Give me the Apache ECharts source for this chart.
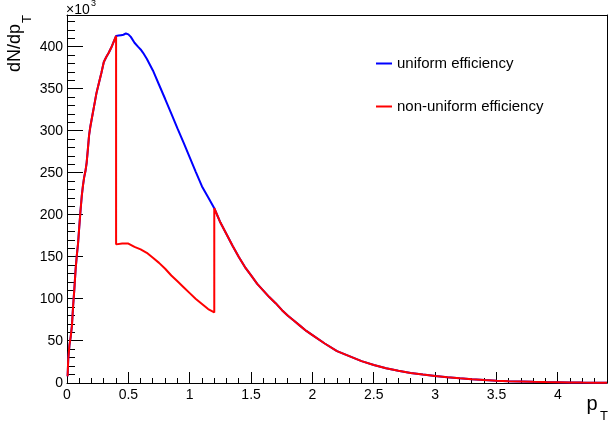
<!DOCTYPE html>
<html>
<head>
<meta charset="utf-8">
<script src="https://cdn.jsdelivr.net/npm/echarts@6/dist/echarts.min.js"></script>
<style>
html,body{margin:0;padding:0;background:#fff;}
#chart{width:610px;height:426px;}
</style>
</head>
<body>
<div id="chart"></div>
<script>
// Values in units of 10^3 entries
const pTRise = [0.005,0.01,0.02,0.03,0.04,0.05,0.06,0.07,0.08,0.09,0.10,0.11,0.12,0.13,0.14,0.15,0.16,0.17,0.18,0.19,0.20,0.21,0.22,0.24,0.26,0.28,0.30,0.32,0.34,0.36,0.38,0.40];
const countsRise = [8,28,45,55,68,92,112,135,152,166,186,205,222,235,245,252,262,278,295,305,313,321,329,345,357,369,382,388,393,399,406,413];

const pTMidUniform = [0.42,0.44,0.46,0.48,0.50,0.52,0.55,0.58,0.60,0.62,0.65,0.70,0.75,0.80,0.85,0.90,0.95,1.00,1.05,1.10,1.15,1.20];
const uniformMid = [413.5,414,414.5,416,415,412,405,400,397,393,386,372,355,338,320.5,303,286,268.5,251,234,221,208];

const pTMidNonUniform = [0.40,0.45,0.50,0.55,0.60,0.65,0.70,0.75,0.80,0.85,0.90,0.95,1.00,1.05,1.10,1.15,1.20];
const nonUniformMid = [165,166,166,162,159,155,149,143,136,128,121,114,107,100,94,88,84];

const pTTail = [1.20,1.25,1.30,1.35,1.40,1.45,1.50,1.55,1.60,1.65,1.70,1.75,1.80,1.85,1.90,1.95,2.00,2.10,2.20,2.30,2.40,2.50,2.60,2.70,2.80,2.90,3.00,3.10,3.20,3.30,3.40,3.50,3.60,3.70,3.80,3.90,4.00,4.10,4.20,4.30,4.40];
const countsTail = [208,191,177,163,150,138,128,118,110,102,95,87,80,74,68,62,57,47,38,32,26,21.5,17.5,14.5,12,10,8.3,6.8,5.6,4.5,3.6,2.8,2.2,1.8,1.4,1.1,0.9,0.7,0.5,0.4,0.3];

const xTickLabels = ['0','0.5','1','1.5','2','2.5','3','3.5','4'];
const yTickLabels = ['0','50','100','150','200','250','300','350','400'];

function pairs(xs, ys){ return xs.map((x,i)=>[x, ys[i]]); }

const uniformData = [].concat(pairs(pTRise,countsRise), pairs(pTMidUniform,uniformMid), pairs(pTTail,countsTail));
const nonUniformData = [].concat(pairs(pTRise,countsRise), pairs(pTMidNonUniform,nonUniformMid), pairs(pTTail,countsTail));

const FONT = '"Liberation Sans", Arial, Helvetica, sans-serif';
const X_MAX = 4.4, Y_MAX = 438;
const X_MAJOR = 0.5, X_MINOR = 0.1, Y_MAJOR = 50, Y_MINOR = 10;

// tick positions along the axes (axis values, placed by the axis scales)
const xTicks = [];
for (let i = 0; i * X_MINOR <= X_MAX - 1e-9; i++) {
  const v = +(i * X_MINOR).toFixed(2);
  const major = Math.abs(v / X_MAJOR - Math.round(v / X_MAJOR)) < 1e-6;
  xTicks.push([v, major ? 11 : 5]);
}
const yTicks = [];
for (let i = 0; i * Y_MINOR <= Y_MAX - 1e-9; i++) {
  const v = i * Y_MINOR;
  yTicks.push([v, v % Y_MAJOR === 0 ? 16 : 8]);
}

function ls(){ return {color:'#000', width:1}; }
function crisp(p){ return Math.round(p - 0.5) + 0.5; }

const chart = echarts.init(document.getElementById('chart'));
chart.setOption({
  animation:false,
  backgroundColor:'#fff',
  grid:{left:67, top:15, width:541, height:368},
  legend:{
    orient:'vertical', left:371, top:51, itemWidth:16, itemHeight:2, itemGap:28, icon:'rect',
    textStyle:{fontSize:15, color:'#000', fontFamily:FONT},
    data:['uniform efficiency','non-uniform efficiency']
  },
  xAxis:[
    {type:'value', min:0, max:X_MAX, interval:X_MAJOR, position:'bottom',
     axisLine:{show:true, lineStyle:ls()},
     axisTick:{show:false},
     axisLabel:{show:true, margin:5, color:'#000', fontSize:14, fontFamily:FONT,
       formatter:function(v){ const k = Math.round(v/X_MAJOR); return (Math.abs(v/X_MAJOR-k)<1e-6 && k < xTickLabels.length) ? xTickLabels[k] : ''; }},
     splitLine:{show:false}},
    {type:'value', min:0, max:X_MAX, position:'top',
     axisLine:{show:true, onZero:false, lineStyle:ls()},
     axisTick:{show:false}, axisLabel:{show:false}, splitLine:{show:false}}
  ],
  yAxis:[
    {type:'value', min:0, max:Y_MAX, interval:Y_MAJOR, position:'left',
     axisLine:{show:true, lineStyle:ls()},
     axisTick:{show:false},
     axisLabel:{show:true, margin:4, color:'#000', fontSize:14, fontFamily:FONT,
       formatter:function(v){ const k = Math.round(v/Y_MAJOR); return (Math.abs(v-Y_MAJOR*k)<1e-6 && k < yTickLabels.length) ? yTickLabels[k] : ''; }},
     splitLine:{show:false}},
    {type:'value', min:0, max:Y_MAX, position:'right',
     axisLine:{show:true, onZero:false, lineStyle:ls()},
     axisTick:{show:false}, axisLabel:{show:false}, splitLine:{show:false}}
  ],
  series:[
    {type:'custom', xAxisIndex:0, yAxisIndex:0, data:xTicks, clip:false, silent:true, z:1,
     renderItem:function(params, api){
       const p = api.coord([api.value(0), 0]);
       const x = crisp(p[0]);
       return {type:'line', shape:{x1:x, y1:p[1], x2:x, y2:p[1]-api.value(1)}, style:{stroke:'#000', lineWidth:1}};
     }},
    {type:'custom', xAxisIndex:0, yAxisIndex:0, data:yTicks.map(t=>[0, t[0], t[1]]), clip:false, silent:true, z:1,
     renderItem:function(params, api){
       const p = api.coord([0, api.value(1)]);
       const y = crisp(p[1]);
       return {type:'line', shape:{x1:p[0], y1:y, x2:p[0]+api.value(2), y2:y}, style:{stroke:'#000', lineWidth:1}};
     }},
    {name:'uniform efficiency', type:'line', xAxisIndex:0, yAxisIndex:0, data:uniformData,
     showSymbol:false, symbol:'none', color:'#0000ff', lineStyle:{color:'#0000ff', width:2}, z:2},
    {name:'non-uniform efficiency', type:'line', xAxisIndex:0, yAxisIndex:0, data:nonUniformData,
     showSymbol:false, symbol:'none', color:'#ff0000', lineStyle:{color:'#ff0000', width:2}, z:3}
  ],
  graphic:[
    {type:'text', x:66, y:10, style:{text:'×10', font:'14px '+FONT, fill:'#000', textVerticalAlign:'middle', textAlign:'left'}},
    {type:'text', x:91, y:4, style:{text:'3', font:'9px '+FONT, fill:'#000', textVerticalAlign:'middle', textAlign:'left'}},
    {type:'group', x:14.7, y:72, rotation:Math.PI/2, children:[
      {type:'text', x:0, y:0, style:{text:'dN/dp', font:'18px '+FONT, fill:'#000', textVerticalAlign:'middle', textAlign:'left'}},
      {type:'text', x:49, y:12.5, style:{text:'T', font:'13px '+FONT, fill:'#000', textVerticalAlign:'middle', textAlign:'left'}}
    ]},
    {type:'text', x:586.5, y:404, style:{text:'p', font:'20px '+FONT, fill:'#000', textVerticalAlign:'middle', textAlign:'left'}},
    {type:'text', x:600, y:416.5, style:{text:'T', font:'13px '+FONT, fill:'#000', textVerticalAlign:'middle', textAlign:'left'}}
  ]
});
</script>
</body>
</html>
